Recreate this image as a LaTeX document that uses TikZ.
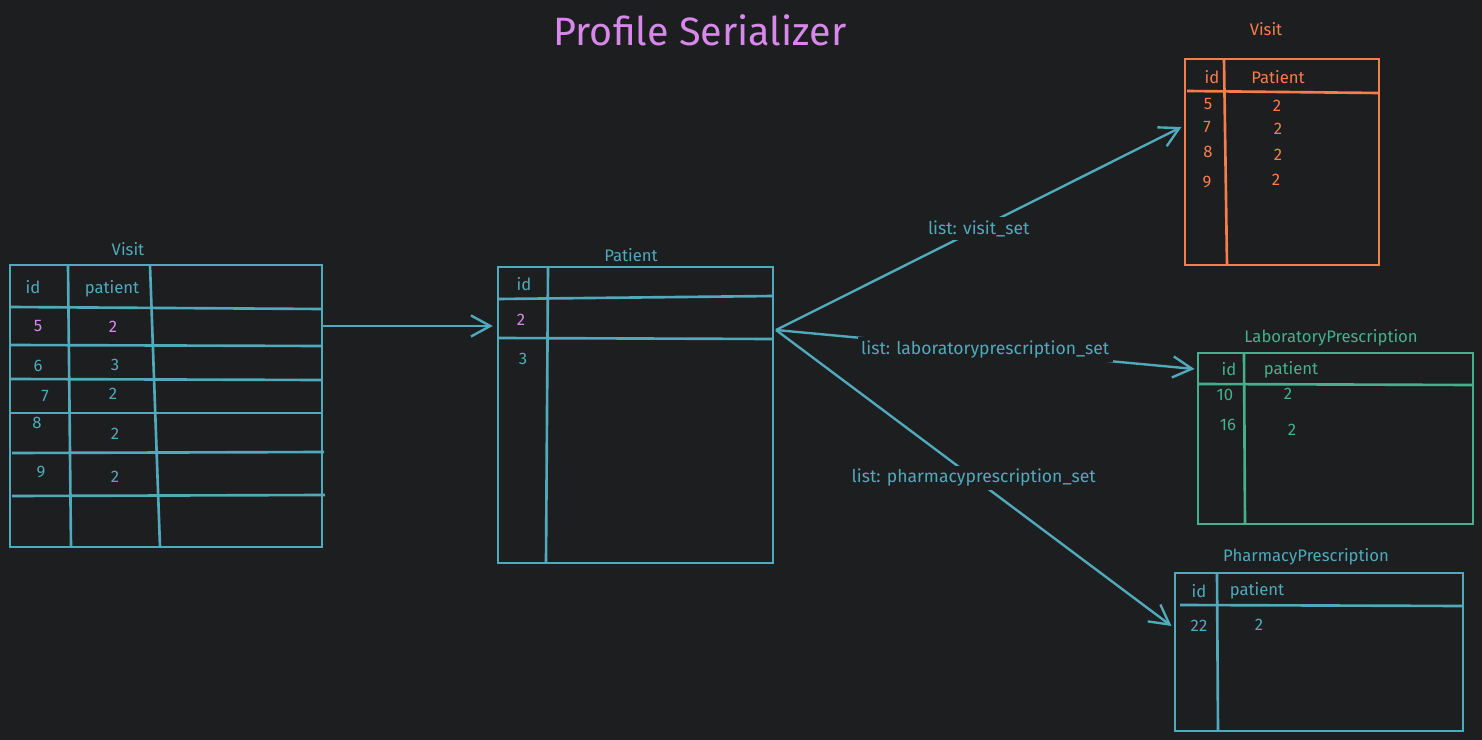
\documentclass[tikz,border=0pt]{standalone}
\usepackage{fontspec}
\setmainfont{Fira Sans}
\usetikzlibrary{arrows.meta, positioning}

\definecolor{bgdark}{RGB}{29,30,32}
\definecolor{tealline}{RGB}{80,170,188}
\definecolor{visitorange}{RGB}{245,126,76}
\definecolor{labgreen}{RGB}{70,176,138}
\definecolor{titlepink}{RGB}{216,136,234}

\begin{document}
\begin{tikzpicture}[x=0.02cm, y=-0.02cm]

  % Define styles
  \tikzstyle{tbl} = [rectangle, draw, line width=1.6pt, inner sep=0pt, outer sep=0pt]
  \tikzstyle{rule} = [line width=1.5pt]
  \tikzstyle{cell} = [font=\fontsize{9.5}{11}\selectfont, inner sep=1pt]
  \tikzstyle{caption} = [font=\fontsize{9.5}{11}\selectfont, text=tealline]
  \tikzstyle{link} = [draw=tealline, line width=1.35pt, -{Straight Barb[length=11pt, width=12pt]}]
  \tikzstyle{lbl} = [fill=bgdark, text=tealline, font=\fontsize{10}{12}\selectfont, inner sep=2pt]

  % Background
  \useasboundingbox (0,0) rectangle (1482,740);
  \fill[bgdark] (0,0) rectangle (1482,740);

  % Title
  \node[text=titlepink, font=\fontsize{22.5}{26}\selectfont] (title) at (700,30) {Profile Serializer};

  % Visit table (left)
  \node[caption] (vtitle) at (128,249) {Visit};
  \node[tbl, draw=tealline, minimum width=6.24cm, minimum height=5.64cm] (visit) at (166,406) {};
  \draw[rule, tealline] (68,265) -- (71,547);
  \draw[rule, tealline] (150,265) -- (160,547);
  \draw[rule, tealline] (10,307) -- (322,309);
  \draw[rule, tealline] (10,345) -- (322,346);
  \draw[rule, tealline] (10,379) -- (322,380);
  \draw[rule, tealline] (10,413) -- (322,413);
  \draw[rule, tealline] (12,453) -- (324,452);
  \draw[rule, tealline] (12,496) -- (325,495);

  \node[cell, text=tealline] (vid) at (33,287) {id};
  \node[cell, text=tealline] (vpat) at (112,289) {patient};
  \node[cell, text=titlepink] (v5) at (38,326) {5};
  \node[cell, text=titlepink] (v5p) at (113,327) {2};
  \node[cell, text=tealline] (v6) at (38,366) {6};
  \node[cell, text=tealline] (v6p) at (115,365) {3};
  \node[cell, text=tealline] (v7) at (45,396) {7};
  \node[cell, text=tealline] (v7p) at (113,394) {2};
  \node[cell, text=tealline] (v8) at (37,423) {8};
  \node[cell, text=tealline] (v8p) at (115,434) {2};
  \node[cell, text=tealline] (v9) at (41,472) {9};
  \node[cell, text=tealline] (v9p) at (115,477) {2};

  % Patient table
  \node[caption] (ptitle) at (631,255) {Patient};
  \node[tbl, draw=tealline, minimum width=5.5cm, minimum height=5.92cm] (patient) at (635.5,415) {};
  \draw[rule, tealline] (548,267) -- (546,563);
  \draw[rule, tealline] (498,299) -- (773,296);
  \draw[rule, tealline] (498,338) -- (773,339);

  \node[cell, text=tealline] (pid) at (524,284) {id};
  \node[cell, text=titlepink] (p2) at (521,320) {2};
  \node[cell, text=tealline] (p3) at (523,359) {3};

  % Visit -> Patient
  \draw[link] (visit.east |- v5) -- ([xshift=-3pt]patient.west |- v5);

  % Visit table (right)
  \node[caption, text=visitorange] (v2title) at (1266,29) {Visit};
  \node[tbl, draw=visitorange, minimum width=3.88cm, minimum height=4.12cm] (visit2) at (1282,162) {};
  \draw[rule, visitorange] (1224,59) -- (1227,265);
  \draw[rule, visitorange] (1187,91) -- (1379,93);

  \node[cell, text=visitorange] (v2id) at (1212,77) {id};
  \node[cell, text=visitorange] (v2pat) at (1278,77) {Patient};
  \node[cell, text=visitorange] (v25) at (1208,104) {5};
  \node[cell, text=visitorange] (v25p) at (1277,106) {2};
  \node[cell, text=visitorange] (v27) at (1207,127) {7};
  \node[cell, text=visitorange] (v27p) at (1278,129) {2};
  \node[cell, text=visitorange] (v28) at (1208,152) {8};
  \node[cell, text=visitorange] (v28p) at (1278,155) {2};
  \node[cell, text=visitorange] (v29) at (1207,182) {9};
  \node[cell, text=visitorange] (v29p) at (1276,180) {2};

  % LaboratoryPrescription table
  \node[caption, text=labgreen] (labtitle) at (1331,338) {LaboratoryPrescription};
  \node[tbl, draw=labgreen, minimum width=5.5cm, minimum height=3.42cm] (lab) at (1335.5,438.5) {};
  \draw[rule, labgreen] (1244,353) -- (1245,524);
  \draw[rule, labgreen] (1198,384) -- (1473,385);

  \node[cell, text=labgreen] (labid) at (1229,369) {id};
  \node[cell, text=labgreen] (labpat) at (1291,370) {patient};
  \node[cell, text=labgreen] (lab10) at (1225,395) {10};
  \node[cell, text=labgreen] (lab10p) at (1288,394) {2};
  \node[cell, text=labgreen] (lab16) at (1228,425) {16};
  \node[cell, text=labgreen] (lab16p) at (1292,430) {2};

  % PharmacyPrescription table
  \node[caption] (phtitle) at (1306,557) {PharmacyPrescription};
  \node[tbl, draw=tealline, minimum width=5.76cm, minimum height=3.16cm] (pharm) at (1319,652) {};
  \draw[rule, tealline] (1217,573) -- (1218,731);
  \draw[rule, tealline] (1180,605) -- (1463,606);

  \node[cell, text=tealline] (phid) at (1199,591) {id};
  \node[cell, text=tealline] (phpat) at (1257,591) {patient};
  \node[cell, text=tealline] (ph22) at (1199,626) {22};
  \node[cell, text=tealline] (ph22p) at (1259,625) {2};

  % Patient -> related sets
  \coordinate (pout) at (776,330);
  \draw[link] (pout) -- node[lbl] {list: visit\_set} ([xshift=-2pt]visit2.west |- v27);
  \draw[link] (pout) -- node[lbl] {list: laboratoryprescription\_set} ([xshift=-2pt]lab.west |- labid);
  \draw[link] (pout) -- node[lbl] {list: pharmacyprescription\_set} ([xshift=-2pt]pharm.west |- ph22);

\end{tikzpicture}
\end{document}
